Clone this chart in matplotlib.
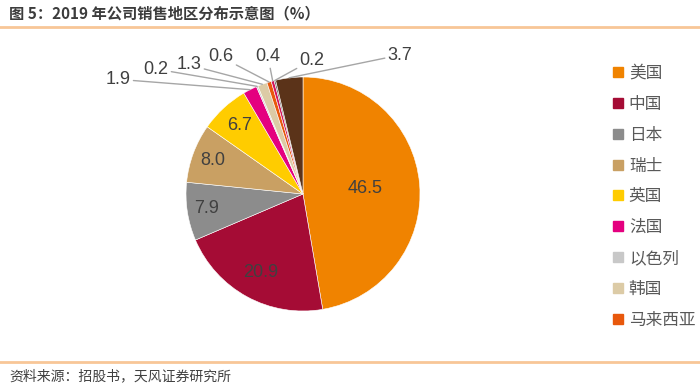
import matplotlib
matplotlib.use("Agg")
import matplotlib.pyplot as plt
import numpy as np
from matplotlib.lines import Line2D

# ---- data ----
regions = ["美国", "中国", "日本", "瑞士", "英国", "法国", "以色列", "韩国", "马来西亚", "其他1", "其他2", "其他3"]
shares = [46.5, 20.9, 7.9, 8.0, 6.7, 1.9, 0.2, 1.3, 0.6, 0.4, 0.2, 3.7]
legend_count = 9
title = "图 5：2019 年公司销售地区分布示意图（%）"
source = "资料来源：招股书，天风证券研究所"

# ---- styles ----
colors = ["#F08300", "#A50C35", "#8C8C8C", "#C9A063", "#FFCC00", "#E4007F",
          "#C8C8C8", "#DCCBA6", "#E8580C", "#D4145A", "#5A5A5A", "#5B3319"]
inside_r = [0.53, 0.76, 0.83, 0.82, 0.80]
outside_pos = [(-1.58, 0.98), (-1.256, 1.068), (-0.974, 1.103), (-0.701, 1.171),
               (-0.299, 1.171), (0.077, 1.145), (0.829, 1.188)]

W, H = 700, 388
cx, cy, R = 303, 194, 117
fig = plt.figure(figsize=(W / 100, H / 100), dpi=100)
ax = fig.add_axes([0, 0, 1, 1])

wedges, _ = ax.pie(shares, colors=colors, startangle=90, counterclock=False,
                   radius=1.0, wedgeprops=dict(linewidth=0.4, edgecolor="white"))
ax.set_xlim(-cx / R, (W - cx) / R)
ax.set_ylim(-(H - cy) / R, cy / R)
ax.set_aspect("auto")
ax.axis("off")

numfont = ["Liberation Sans", "DejaVu Sans"]
txtcol = "#404040"
total = sum(shares)
cum = 0.0
oi = 0
for i, v in enumerate(shares):
    a0 = cum / total * 360
    cum += v
    a1 = cum / total * 360
    mid = np.deg2rad(90 - (a0 + a1) / 2)
    lab = f"{v:.1f}"
    if i < len(inside_r):
        r = inside_r[i]
        ax.text(r * np.cos(mid), r * np.sin(mid), lab, ha="center", va="center",
                fontsize=13, color=txtcol, family=numfont)
    else:
        tx, ty = outside_pos[oi]
        oi += 1
        ex, ey = 1.0 * np.cos(mid), 1.0 * np.sin(mid)
        ax.annotate(lab, xy=(ex, ey), xytext=(tx, ty), ha="center", va="center",
                    fontsize=13, color=txtcol, family=numfont,
                    arrowprops=dict(arrowstyle="-", color="#A6A6A6", lw=1.0,
                                    shrinkA=0, shrinkB=0))

handles = [Line2D([0], [0], marker="s", linestyle="none", markersize=6.5,
                  markerfacecolor=colors[i], markeredgecolor=colors[i])
           for i in range(legend_count)]
leg = fig.legend(handles, regions[:legend_count], loc="upper left",
                 bbox_to_anchor=(598 / W, 1 - 50 / H), frameon=False,
                 handlelength=0.6, handletextpad=0.35, labelspacing=0.83,
                 prop=dict(family=["Noto Sans CJK SC", "DejaVu Sans"], size=12))
for t in leg.get_texts():
    t.set_color("#595959")

# title, rules, source
fig.text(9 / W, 1 - 13 / H, title, ha="left", va="center", fontsize=11,
         fontweight="bold", color="#3C3C3C",
         family=["Noto Sans CJK SC", "DejaVu Sans"])
fig.add_artist(Line2D([0, 1], [1 - 27 / H, 1 - 27 / H], color="#F8C697", lw=2,
                      transform=fig.transFigure))
fig.add_artist(Line2D([0, 1], [1 - 362 / H, 1 - 362 / H], color="#F8C697", lw=2,
                      transform=fig.transFigure))
fig.text(9 / W, 1 - 376 / H, source, ha="left", va="center", fontsize=10,
         color="#404040", family=["Noto Sans CJK SC", "DejaVu Sans"])

fig.savefig("out.png", dpi=100)
